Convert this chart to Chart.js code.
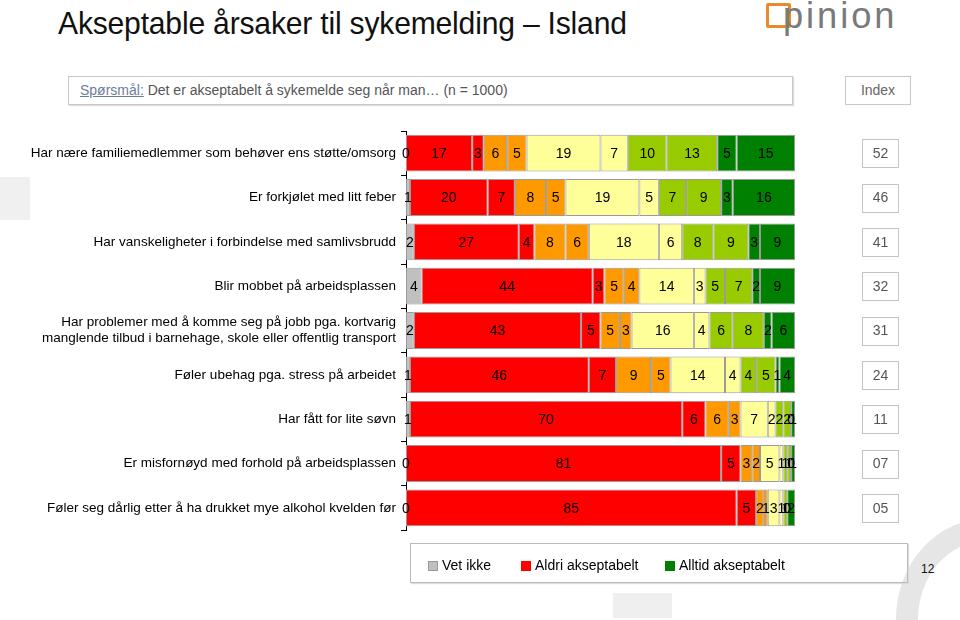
<!DOCTYPE html>
<html>
<head>
<meta charset="utf-8">
<script src="https://cdn.jsdelivr.net/npm/chart.js@4/dist/chart.umd.min.js"></script>
<style>
  body{margin:0;background:#fff;font-family:"Liberation Sans",Arial,sans-serif;}
  #wrap{position:relative;width:960px;height:620px;overflow:hidden;}
  #c{position:absolute;left:0;top:0;}
  .title{position:absolute;left:58px;top:5px;font-size:32px;color:#111;white-space:nowrap;transform:scaleX(0.94);transform-origin:0 0;letter-spacing:-0.2px;}
  .logo{position:absolute;left:766px;top:0px;color:#777;}
  .logo .sq{position:absolute;left:0;top:3px;width:19px;height:19px;border:3px solid #e8892b;border-radius:2px;}
  .logo .t{position:absolute;left:17px;top:-5px;white-space:nowrap;font-size:37px;letter-spacing:3px;transform:scaleX(0.98);transform-origin:0 0;color:#7a7a7a;}
  .qbox{position:absolute;left:68px;top:76px;width:725px;height:29px;border:1px solid #c8c8c8;box-shadow:1px 1px 1px #ddd;font-size:14px;color:#555;line-height:27px;padding-left:11px;box-sizing:border-box;}
  .qbox u{color:#6b7e99;}
  .ibox{position:absolute;left:845px;top:76px;width:66px;height:29px;border:1px solid #c8c8c8;box-sizing:border-box;font-size:14px;color:#666;line-height:27px;text-align:center;}
  .legend{position:absolute;left:410px;top:543px;width:498px;height:40px;border:1px solid #bbb;box-shadow:1px 1px 1px #ddd;box-sizing:border-box;font-size:14px;color:#000;}
  .legend span.i{position:absolute;top:13px;white-space:nowrap;}
  .legend span.i b{display:inline-block;width:10px;height:10px;margin-right:4px;vertical-align:-1px;box-sizing:border-box;}
  .deco1{position:absolute;left:0;top:177px;width:30px;height:43px;background:#f0f0f0;}
  .deco2{position:absolute;left:613px;top:593px;width:59px;height:25px;background:#efefef;}
  .arc{position:absolute;left:896px;top:519px;width:140px;height:160px;border-left:22px solid #e6e6e6;border-top:22px solid #e6e6e6;border-top-left-radius:90px 100px;box-sizing:border-box;}
  .pg{position:absolute;left:921px;top:562px;font-size:12px;color:#111;}
</style>
</head>
<body>
<div id="wrap">
  <div class="deco1"></div>
  <div class="arc"></div>
  <div class="deco2"></div>
  <div class="pg">12</div>
  <div class="title">Akseptable årsaker til sykemelding – Island</div>
  <div class="logo"><div class="sq"></div><div class="t">pinion</div></div>
  <div class="qbox"><u>Spørsmål:</u> Det er akseptabelt å sykemelde seg når man… (n = 1000)</div>
  <div class="ibox">Index</div>
  <canvas id="c" width="960" height="620"></canvas>
  <div class="legend">
    <span class="i" style="left:17px"><b style="background:#c0c0c0;border:1px solid #999"></b>Vet ikke</span>
    <span class="i" style="left:110px"><b style="background:#ff0000"></b>Aldri akseptabelt</span>
    <span class="i" style="left:254px"><b style="background:#008000"></b>Alltid akseptabelt</span>
  </div>
</div>
<script>
const categories = [
  'Har nære familiemedlemmer som behøver ens støtte/omsorg',
  'Er forkjølet med litt feber',
  'Har vanskeligheter i forbindelse med samlivsbrudd',
  'Blir mobbet på arbeidsplassen',
  ['Har problemer med å komme seg på jobb pga. kortvarig', 'manglende tilbud i barnehage, skole eller offentlig transport'],
  'Føler ubehag pga. stress på arbeidet',
  'Har fått for lite søvn',
  'Er misfornøyd med forhold på arbeidsplassen',
  'Føler seg dårlig etter å ha drukket mye alkohol kvelden før'
];
const seriesNames = ['Vet ikke','Aldri akseptabelt','2','3','4','5','6','7','8','9','Alltid akseptabelt'];
const seriesColors = ['#c0c0c0','#ff0000','#ff0000','#ff9900','#ff9900','#ffff99','#ffff99','#99cc00','#99cc00','#008000','#008000'];
// one row per category, one value per series
const rows = [
  [0,17,3,6,5,19,7,10,13,5,15],
  [1,20,7,8,5,19,5,7,9,3,16],
  [2,27,4,8,6,18,6,8,9,3,9],
  [4,44,3,5,4,14,3,5,7,2,9],
  [2,43,5,5,3,16,4,6,8,2,6],
  [1,46,7,9,5,14,4,4,5,1,4],
  [1,70,6,6,3,7,2,2,2,0,1],
  [0,81,5,3,2,5,1,1,1,0,1],
  [0,85,5,2,1,3,1,1,0,0,2]
];
const indexValues = ['52','46','41','32','31','24','11','07','05'];

const datasets = seriesNames.map((name, s) => ({
  label: name,
  data: rows.map(r => r[s]),
  backgroundColor: seriesColors[s],
  borderColor: '#9a9a9a',
  borderWidth: 1,
  borderSkipped: false,
  categoryPercentage: 1,
  barPercentage: 0.83
}));

const segLabels = {
  id: 'segLabels',
  afterDatasetsDraw(chart){
    const ctx = chart.ctx;
    ctx.save();
    ctx.font = '14px "Liberation Sans", Arial, sans-serif';
    ctx.fillStyle = '#000';
    ctx.textAlign = 'center';
    ctx.textBaseline = 'middle';
    chart.data.datasets.forEach((ds, i) => {
      chart.getDatasetMeta(i).data.forEach((bar, j) => {
        const p = bar.getProps(['x','base','y'], true);
        ctx.fillText(String(ds.data[j]), (p.x + p.base) / 2, p.y + 1);
      });
    });
    ctx.restore();
  }
};

const indexBoxes = {
  id: 'indexBoxes',
  afterDraw(chart){
    const ctx = chart.ctx, ys = chart.scales.y;
    ctx.save();
    ctx.font = '14px "Liberation Sans", Arial, sans-serif';
    ctx.textAlign = 'center';
    ctx.textBaseline = 'middle';
    indexValues.forEach((v, i) => {
      const y = ys.getPixelForValue(i);
      ctx.strokeStyle = '#c4c4c4';
      ctx.lineWidth = 1;
      ctx.strokeRect(862.5, Math.round(y - 14) + 0.5, 36, 28);
      ctx.fillStyle = '#555';
      ctx.fillText(v, 880.5, y + 1);
    });
    ctx.restore();
  }
};

new Chart(document.getElementById('c'), {
  type: 'bar',
  data: { labels: categories, datasets },
  plugins: [segLabels, indexBoxes],
  options: {
    indexAxis: 'y',
    responsive: false,
    animation: false,
    layout: { padding: { top: 131, bottom: 90, right: 165, left: 0 } },
    plugins: { legend: { display: false }, tooltip: { enabled: false } },
    scales: {
      x: { stacked: true, min: 0, max: 100, display: false },
      y: {
        stacked: true,
        afterFit: s => { s.width = 406; },
        border: { display: true, color: '#000', width: 1 },
        grid: { drawOnChartArea: false, drawTicks: true, tickLength: 5, color: '#000' },
        ticks: { color: '#000', padding: 5, font: { size: 13.5, family: '"Liberation Sans", Arial, sans-serif' } }
      }
    }
  }
});
</script>
</body>
</html>
